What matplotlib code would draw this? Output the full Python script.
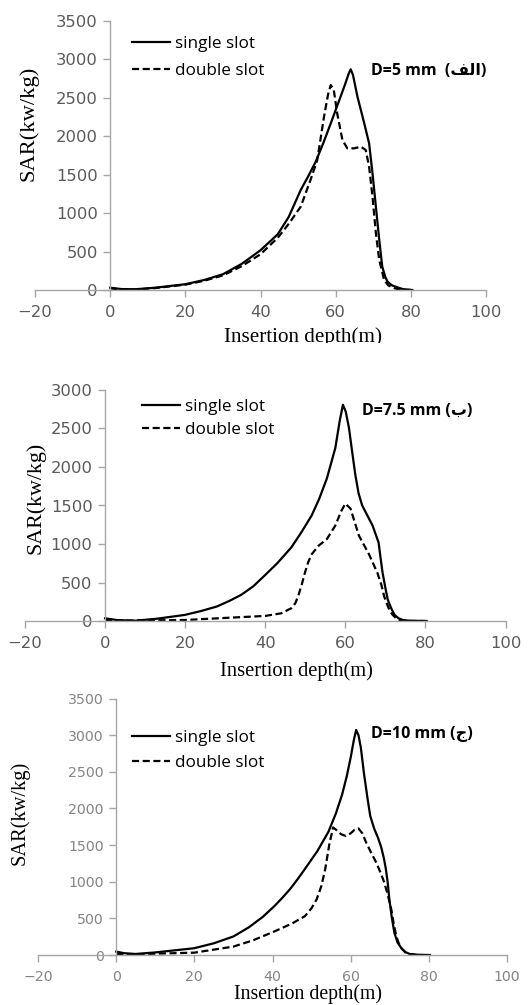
import matplotlib
matplotlib.use("Agg")
import matplotlib.pyplot as plt
from matplotlib.lines import Line2D
from matplotlib.patches import Rectangle

# ---------------- data ----------------
# Panel A: D = 5 mm
x_a_single = [0, 3, 6.8, 12, 20, 25, 30, 35, 40, 44.6, 47.5, 50.7, 52.7, 54.7, 56.7, 58.7, 61.3, 62.6, 63.5, 64, 64.6, 65.8, 67.6, 68.9, 69.8, 70.7, 71.6, 72.4, 73.2, 73.8, 75, 76.4, 78, 80.4]
y_a_single = [30, 12, 10, 30, 75, 130, 205, 340, 517, 726, 950, 1301, 1480, 1670, 1910, 2169, 2515, 2690, 2820, 2871, 2800, 2515, 2169, 1908, 1518, 1084, 650, 303, 170, 108, 60, 35, 10, 0]
x_a_double = [0, 3, 6.8, 12, 20, 25, 30, 35, 40, 44.6, 47.5, 50.7, 53.3, 55.1, 56.9, 58.0, 58.7, 59.5, 60.4, 61.8, 63.1, 64.9, 66.7, 68, 68.9, 69.8, 70.7, 71.6, 72.9, 74, 75.5, 77, 80]
y_a_double = [20, 8, 6, 25, 70, 120, 190, 310, 465, 680, 860, 1084, 1431, 1691, 2255, 2550, 2667, 2602, 2299, 1952, 1843, 1843, 1865, 1821, 1604, 1214, 738, 390, 130, 60, 25, 5, 0]

# Panel B: D = 7.5 mm
x_b_single = [0, 3, 7.6, 13, 19.9, 24, 27.9, 31, 34, 37, 39.7, 43, 46.5, 49, 51.6, 53.5, 55.4, 57.5, 58.6, 59.4, 60.1, 60.9, 61.7, 62.5, 63.3, 64.2, 65.5, 66.8, 68.3, 68.8, 69.3, 70, 70.6, 71.5, 72.3, 73.3, 74.4, 76, 80.3]
y_b_single = [35, 12, 4, 30, 79, 130, 188, 260, 340, 450, 583, 750, 955, 1150, 1371, 1590, 1853, 2247, 2600, 2808, 2720, 2510, 2200, 1897, 1660, 1502, 1370, 1240, 1020, 820, 626, 430, 276, 160, 79, 35, 13, 4, 0]
x_b_double = [0, 5, 10, 20, 30, 40, 44, 46.5, 47.5, 48.2, 49.1, 49.9, 50.7, 51.6, 53.3, 55.4, 57.5, 59, 60, 61.3, 62.3, 63.4, 65.9, 68, 69, 69.7, 70.4, 71, 71.8, 72.7, 73.7, 75, 80]
y_b_double = [15, 5, 8, 13, 40, 66, 100, 166, 230, 320, 470, 626, 760, 867, 977, 1064, 1240, 1430, 1524, 1459, 1290, 1108, 867, 626, 470, 320, 220, 145, 80, 35, 10, 0, 0]

# Panel C: D = 10 mm
x_c_single = [0, 2, 4.9, 10, 19.9, 25, 30, 34, 37.5, 40.5, 42.5, 44.5, 46.5, 48.3, 51.5, 54.3, 56.2, 57.8, 59, 60, 60.8, 61.4, 62, 62.6, 63.4, 64.3, 65, 66, 67, 67.8, 68.5, 69, 69.5, 69.9, 70.5, 71.2, 72, 73, 74, 75.1, 77, 80.3]
y_c_single = [46, 25, 14, 35, 92, 160, 253, 380, 520, 668, 780, 900, 1040, 1175, 1420, 1681, 1930, 2188, 2440, 2695, 2930, 3072, 3000, 2833, 2480, 2142, 1900, 1727, 1600, 1474, 1320, 1175, 980, 760, 520, 300, 170, 92, 40, 14, 4, 0]
x_c_double = [0, 5, 10, 20, 30, 35, 40.5, 45, 48.3, 50, 51.3, 52.5, 53.5, 54.5, 55.5, 56.5, 57.5, 58.7, 60, 61, 62, 63, 63.9, 65.2, 66.5, 67.6, 68.6, 69.5, 70.4, 71, 71.7, 72.3, 73, 74, 74.7, 76.9]
y_c_double = [14, 10, 18, 32, 115, 200, 322, 430, 530, 640, 760, 940, 1175, 1500, 1741, 1700, 1650, 1626, 1660, 1710, 1727, 1660, 1543, 1400, 1267, 1130, 990, 820, 622, 430, 253, 160, 92, 35, 14, 0]

panels = [
    dict(xs=x_a_single, ys=y_a_single, xd=x_a_double, yd=y_a_double,
         ymax=3500, label="D=5 mm  (\uFED2\uFEDF\uFE8D)"),
    dict(xs=x_b_single, ys=y_b_single, xd=x_b_double, yd=y_b_double,
         ymax=3000, label="D=7.5 mm (\uFE8F)"),
    dict(xs=x_c_single, ys=y_c_single, xd=x_c_double, yd=y_c_double,
         ymax=3500, label="D=10 mm (\uFE9D)"),
]
series_names = ["single slot", "double slot"]
xticks = [-20, 0, 20, 40, 60, 80, 100]

# ---------------- layout (pixels) ----------------
W, H = 531, 1005
fig = plt.figure(figsize=(W / 100, H / 100), dpi=100)
fig.patch.set_facecolor("white")

def fx(px):
    return px / W

def fy(py):
    return 1 - py / H

# (left px, right px, y0 px, ytop px)
boxes = [(35, 486, 290, 21), (25, 505.5, 621, 390), (38, 507, 955, 698.6)]
tick_colors = ["#5a5a5a", "#5a5a5a", "#858585"]
tick_sizes = [11.8, 11.8, 10.2]
ylab = [(29, 123.6, 16.2), (35.6, 497.5, 15.8), (20, 812.8, 14.8)]
xlab = [(303, 337, 15.2), (296, 671, 14.8), (308, 994, 14.2)]
# (x, y of first row centre, row spacing)
leg = [(132, 45, 0.62), (142, 407.7, 0.45), (132, 739, 0.5)]
ann = [(371, 71), (362, 411), (371, 734)]

axis_gray = "#a6a6a6"
dash = (0, (3.2, 1.6))
fsl = 12.3

for i, p in enumerate(panels):
    l, r, y0, yt = boxes[i]
    ax = fig.add_axes([fx(l), fy(y0), (r - l) / W, (y0 - yt) / H])
    ax.plot(p["xs"], p["ys"], color="black", lw=1.6, solid_joinstyle="round")
    ax.plot(p["xd"], p["yd"], color="black", lw=1.6, ls=dash)
    ax.set_xlim(-20, 100)
    ax.set_ylim(0, p["ymax"])
    ax.set_xticks(xticks)
    ax.set_yticks(list(range(0, p["ymax"] + 1, 500)))
    for s in ["top", "right"]:
        ax.spines[s].set_visible(False)
    ax.spines["left"].set_position(("data", 0))
    ax.spines["left"].set_color(axis_gray)
    ax.spines["bottom"].set_color(axis_gray)
    ax.spines["left"].set_linewidth(1.0)
    ax.spines["bottom"].set_linewidth(1.0)
    ax.tick_params(axis="both", colors=axis_gray, length=5, width=1.0,
                   labelcolor=tick_colors[i], labelsize=tick_sizes[i])
    ax.tick_params(axis="x", pad=6)
    ax.tick_params(axis="y", pad=4)
    ax.patch.set_alpha(0)

    # axis labels
    x, y, s = ylab[i]
    fig.text(fx(x), fy(y), "SAR(kw/kg)", rotation=90, ha="center", va="center",
             fontsize=s, family="Liberation Serif")
    x, y, s = xlab[i]
    fig.text(fx(x), fy(y), "Insertion depth(m)", ha="center", va="center",
             fontsize=s, family="Liberation Serif")

    # legend
    handles = [Line2D([], [], color="black", lw=1.6),
               Line2D([], [], color="black", lw=1.6, ls=dash)]
    lx, ly, sp = leg[i]
    ax.legend(handles, series_names, loc="upper left",
              bbox_to_anchor=(fx(lx), fy(ly - 9)), bbox_transform=fig.transFigure,
              frameon=False, handlelength=2.2, handletextpad=0.3,
              labelspacing=sp, borderpad=0, borderaxespad=0,
              prop=dict(family="Open Sans", size=fsl))

    # annotation
    axx, ayy = ann[i]
    fig.text(fx(axx), fy(ayy), p["label"], ha="left", va="center",
             fontsize=11.5, fontweight="bold", family=["Open Sans", "DejaVu Sans"])

# the first panel's x label is cropped at the bottom in the source image
fig.patches.append(Rectangle((0, fy(352)), 1, fy(343) - fy(352),
                             transform=fig.transFigure, facecolor="white",
                             edgecolor="none", zorder=10))

fig.savefig("out.png", dpi=100, facecolor="white")
